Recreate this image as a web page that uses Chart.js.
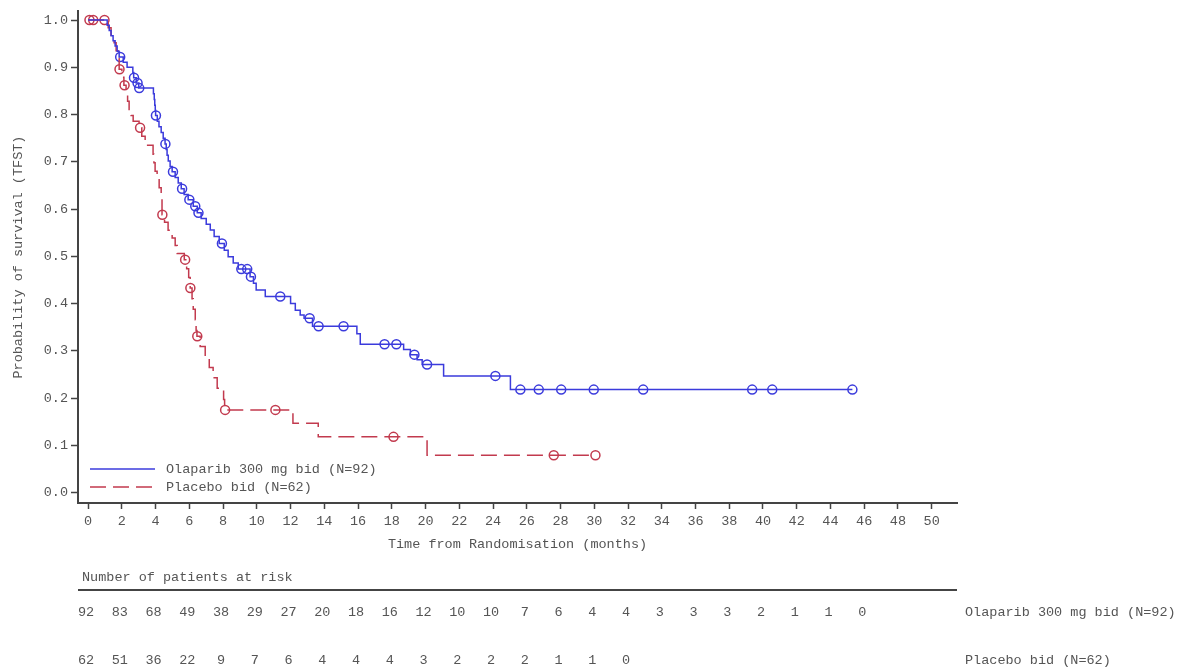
<!DOCTYPE html>
<html>
<head>
<meta charset="utf-8">
<script src="https://cdn.jsdelivr.net/npm/chart.js@4.4.1/dist/chart.umd.min.js"></script>
<style>
  body { margin: 0; background: #fff; }
</style>
</head>
<body>
<canvas id="kmChart" width="1178" height="667"></canvas>
<script>
// Olaparib 300 mg bid - KM steps (time in months, survival)
var olaTime = [0, 1.13, 1.25, 1.36, 1.48, 1.6, 1.72, 1.84, 2.08, 2.31, 2.65, 2.7, 2.85, 3.0, 3.87, 3.92, 3.95, 3.98, 4.0, 4.1, 4.2, 4.33, 4.45, 4.56, 4.63, 4.68, 4.75, 4.86, 4.98, 5.16, 5.34, 5.52, 5.69, 5.93, 6.23, 6.47, 6.7, 7.0, 7.24, 7.47, 7.77, 8.07, 8.3, 8.6, 8.9, 9.6, 9.8, 9.96, 10.5, 12.0, 12.28, 12.57, 12.8, 13.3, 15.93, 16.13, 18.7, 19.1, 19.5, 19.8, 21.07, 25.03, 45.3]
var olaSurv = [1, 0.989, 0.978, 0.967, 0.956, 0.945, 0.934, 0.922, 0.911, 0.9, 0.889, 0.878, 0.867, 0.856, 0.844, 0.832, 0.820, 0.809, 0.798, 0.786, 0.774, 0.762, 0.750, 0.738, 0.726, 0.714, 0.702, 0.690, 0.679, 0.667, 0.655, 0.643, 0.631, 0.620, 0.606, 0.592, 0.580, 0.568, 0.556, 0.542, 0.527, 0.513, 0.499, 0.486, 0.473, 0.457, 0.443, 0.429, 0.415, 0.400, 0.386, 0.376, 0.369, 0.352, 0.336, 0.314, 0.303, 0.292, 0.281, 0.271, 0.247, 0.218, 0.218]
var olaCensT = [1.9, 2.72, 2.93, 3.03, 4.02, 4.58, 5.03, 5.57, 6.0, 6.35, 6.54, 7.93, 9.08, 9.43, 9.65, 11.39, 13.13, 13.66, 15.14, 17.57, 18.27, 19.34, 20.09, 24.14, 25.62, 26.71, 28.04, 29.97, 32.9, 39.36, 40.55, 45.3]
var olaCensS = [0.922, 0.878, 0.867, 0.856, 0.798, 0.738, 0.679, 0.643, 0.620, 0.606, 0.592, 0.527, 0.473, 0.473, 0.457, 0.415, 0.369, 0.352, 0.352, 0.314, 0.314, 0.292, 0.271, 0.247, 0.218, 0.218, 0.218, 0.218, 0.218, 0.218, 0.218, 0.218]

// Placebo bid
var pbTime = [0, 1.19, 1.36, 1.54, 1.66, 1.78, 1.84, 2.0, 2.12, 2.25, 2.34, 2.43, 2.55, 2.67, 3.02, 3.18, 3.38, 3.85, 3.9, 3.97, 4.09, 4.21, 4.33, 4.38, 4.53, 4.74, 4.98, 5.16, 5.28, 5.7, 5.84, 5.96, 6.05, 6.16, 6.23, 6.35, 6.4, 6.45, 6.64, 6.94, 7.18, 7.41, 7.65, 8.03, 8.09, 12.14, 13.64, 20.09, 30.07]
var pbSurv = [1, 0.984, 0.968, 0.952, 0.935, 0.919, 0.896, 0.879, 0.862, 0.845, 0.828, 0.811, 0.798, 0.786, 0.772, 0.754, 0.735, 0.716, 0.698, 0.680, 0.662, 0.645, 0.627, 0.588, 0.572, 0.555, 0.539, 0.523, 0.506, 0.493, 0.474, 0.455, 0.433, 0.410, 0.388, 0.366, 0.343, 0.331, 0.309, 0.287, 0.265, 0.243, 0.221, 0.197, 0.175, 0.147, 0.118, 0.079, 0.079]
var pbCensT = [0.08, 0.3, 0.97, 1.86, 2.16, 3.08, 4.4, 5.75, 6.06, 6.47, 8.12, 11.1, 18.1, 27.6, 30.07]
var pbCensS = [1, 1, 1, 0.896, 0.862, 0.772, 0.588, 0.493, 0.433, 0.331, 0.175, 0.175, 0.118, 0.079, 0.079]

// axis ticks
var xTicks = [0, 2, 4, 6, 8, 10, 12, 14, 16, 18, 20, 22, 24, 26, 28, 30, 32, 34, 36, 38, 40, 42, 44, 46, 48, 50]
var yTicks = [0, 0.1, 0.2, 0.3, 0.4, 0.5, 0.6, 0.7, 0.8, 0.9, 1.0]

// number at risk
var riskMonths = [0, 2, 4, 6, 8, 10, 12, 14, 16, 18, 20, 22, 24, 26, 28, 30, 32, 34, 36, 38, 40, 42, 44, 46]
var olaRisk = [92, 83, 68, 49, 38, 29, 27, 20, 18, 16, 12, 10, 10, 7, 6, 4, 4, 3, 3, 3, 2, 1, 1, 0]
var pbRisk = [62, 51, 36, 22, 9, 7, 6, 4, 4, 4, 3, 2, 2, 2, 1, 1, 0]

var olaLabel = 'Olaparib 300 mg bid (N=92)'
var pbLabel = 'Placebo bid (N=62)'

var BLUE = '#3b3bdc'
var RED = '#c23a4e'
var TXT = '#555'
var FONT = '"Liberation Mono", "DejaVu Sans Mono", monospace'
var FS = 13.5

function pts(xs, ys) {
  return xs.map(function (x, i) { return { x: x, y: ys[i] } })
}

// legend + risk table, drawn with the chart's own x scale
var extras = {
  id: 'extras',
  afterDraw: function (chart) {
    var ctx = chart.ctx
    var xs = chart.scales.x
    var area = chart.chartArea
    ctx.save()
    ctx.font = FS + 'px ' + FONT
    ctx.fillStyle = TXT
    ctx.textBaseline = 'middle'

    // legend inside plot
    var ly1 = area.bottom - 34, ly2 = area.bottom - 16
    ctx.lineWidth = 1.5
    ctx.strokeStyle = BLUE
    ctx.beginPath(); ctx.moveTo(area.left + 12, ly1); ctx.lineTo(area.left + 77, ly1); ctx.stroke()
    ctx.strokeStyle = RED
    ctx.setLineDash([16, 7])
    ctx.beginPath(); ctx.moveTo(area.left + 12, ly2); ctx.lineTo(area.left + 77, ly2); ctx.stroke()
    ctx.setLineDash([])
    ctx.textAlign = 'left'
    ctx.fillText(olaLabel, area.left + 88, ly1)
    ctx.fillText(pbLabel, area.left + 88, ly2)

    // risk table
    ctx.fillText('Number of patients at risk', area.left + 4, 577)
    ctx.strokeStyle = '#444'
    ctx.lineWidth = 2
    ctx.beginPath(); ctx.moveTo(area.left, 590); ctx.lineTo(area.right, 590); ctx.stroke()
    ctx.textAlign = 'center'
    olaRisk.forEach(function (n, i) {
      ctx.fillText(String(n), xs.getPixelForValue(riskMonths[i]) - 2, 612)
    })
    pbRisk.forEach(function (n, i) {
      ctx.fillText(String(n), xs.getPixelForValue(riskMonths[i]) - 2, 660)
    })
    ctx.textAlign = 'left'
    ctx.fillText(olaLabel, area.right + 8, 612)
    ctx.fillText(pbLabel, area.right + 8, 660)
    ctx.restore()
  }
}

var ctx = document.getElementById('kmChart').getContext('2d')
new Chart(ctx, {
  type: 'line',
  data: {
    datasets: [
      {
        label: olaLabel,
        data: pts(olaTime, olaSurv),
        borderColor: BLUE,
        borderWidth: 1.5,
        stepped: true,
        pointRadius: 0,
        fill: false
      },
      {
        label: pbLabel,
        data: pts(pbTime, pbSurv),
        borderColor: RED,
        borderWidth: 1.5,
        borderDash: [16, 7],
        stepped: true,
        pointRadius: 0,
        fill: false
      },
      {
        type: 'scatter',
        label: 'ola censored',
        data: pts(olaCensT, olaCensS),
        borderColor: BLUE,
        backgroundColor: 'rgba(255,255,255,0)',
        pointRadius: 4.5,
        pointBorderWidth: 1.5
      },
      {
        type: 'scatter',
        label: 'pb censored',
        data: pts(pbCensT, pbCensS),
        borderColor: RED,
        backgroundColor: 'rgba(255,255,255,0)',
        pointRadius: 4.5,
        pointBorderWidth: 1.5
      }
    ]
  },
  options: {
    responsive: false,
    animation: false,
    layout: { padding: { left: 8, right: 221, top: 11, bottom: 109 } },
    plugins: {
      legend: { display: false },
      tooltip: { enabled: false }
    },
    scales: {
      x: {
        type: 'linear',
        min: -0.6,
        max: 51.5,
        afterBuildTicks: function (axis) { axis.ticks = xTicks.map(function (v) { return { value: v } }) },
        afterFit: function (axis) { axis.height = 55 },
        ticks: { font: { family: FONT, size: FS }, color: TXT, padding: 4, maxRotation: 0, autoSkip: false },
        grid: { drawOnChartArea: false, drawTicks: true, tickLength: 6, tickColor: '#444', tickWidth: 1.5 },
        border: { display: true, color: '#444', width: 2 },
        title: {
          display: true,
          text: 'Time from Randomisation (months)',
          font: { family: FONT, size: FS },
          color: TXT,
          padding: { top: 0, bottom: 5 }
        }
      },
      y: {
        type: 'linear',
        min: -0.022,
        max: 1.019,
        afterBuildTicks: function (axis) { axis.ticks = yTicks.map(function (v) { return { value: v } }) },
        afterFit: function (axis) { axis.width = 70 },
        ticks: {
          font: { family: FONT, size: FS },
          color: TXT,
          padding: 3,
          callback: function (v) { return Number(v).toFixed(1) }
        },
        grid: { drawOnChartArea: false, drawTicks: true, tickLength: 7, tickColor: '#444', tickWidth: 1.5 },
        border: { display: true, color: '#444', width: 2 },
        title: {
          display: true,
          text: 'Probability of survival (TFST)',
          font: { family: FONT, size: FS },
          color: TXT,
          padding: { top: 2, bottom: 0 }
        }
      }
    }
  },
  plugins: [extras]
})
</script>
</body>
</html>
